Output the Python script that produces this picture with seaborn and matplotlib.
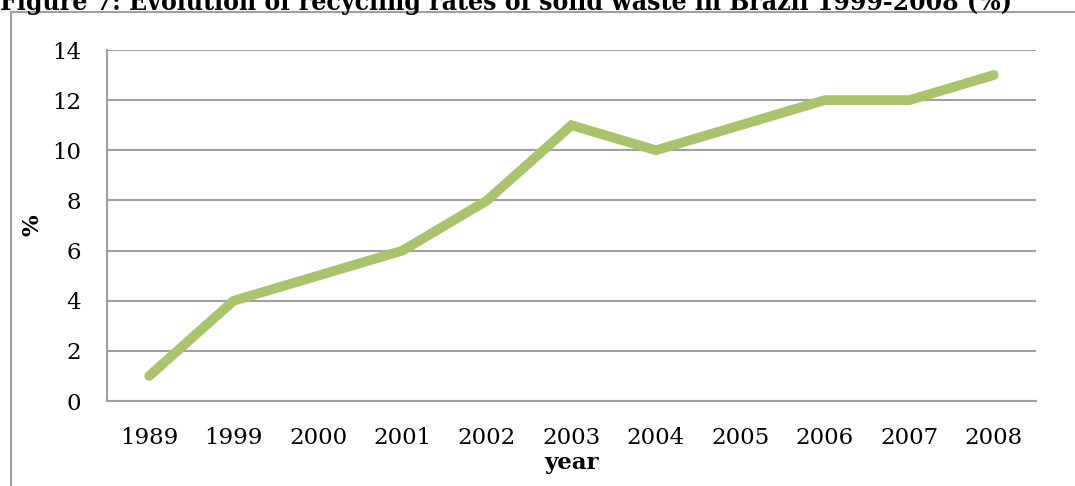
import matplotlib
matplotlib.use("Agg")
import matplotlib.pyplot as plt
import seaborn as sns
import pandas as pd
from matplotlib.patches import Rectangle

# Recycling rates of solid waste in Brazil
years = ["1989", "1999", "2000", "2001", "2002", "2003", "2004", "2005", "2006", "2007", "2008"]
rates = [1, 4, 5, 6, 8, 11, 10, 11, 12, 12, 13]
y_ticks = [0, 2, 4, 6, 8, 10, 12, 14]

df = pd.DataFrame({"year": years, "rate": rates})

sns.set_theme(style="white")
plt.rcParams["font.family"] = ["DejaVu Serif"]

fig = plt.figure(figsize=(10.75, 4.86), dpi=100)
ax = fig.add_axes([107 / 1075, 1 - 401 / 486, (1036 - 107) / 1075, (401 - 50) / 486])

grid_col = "#a0a0a0"
line_col = "#a9c46c"

sns.lineplot(data=df, x="year", y="rate", ax=ax, color=line_col, linewidth=7,
             solid_capstyle="round", solid_joinstyle="miter", sort=False, zorder=3)

ax.set_xlim(-0.5, len(years) - 0.5)
ax.set_ylim(0, 14)
ax.set_yticks(y_ticks)
ax.yaxis.grid(True, color=grid_col, linewidth=1.5)
ax.xaxis.grid(False)
ax.set_axisbelow(True)

for side in ["top", "right"]:
    ax.spines[side].set_visible(False)
for side in ["left", "bottom"]:
    ax.spines[side].set_color(grid_col)
    ax.spines[side].set_linewidth(1.5)

ax.tick_params(axis="both", length=0, labelsize=16.5, colors="black")
ax.tick_params(axis="y", pad=18.5)
ax.tick_params(axis="x", pad=18.5)

ax.set_xlabel("year", fontsize=16.5, fontweight="bold", color="black")
ax.set_ylabel("%", fontsize=16.5, fontweight="bold", color="black")
ax.xaxis.set_label_coords(0.5, (401 - 452) / 351)
ax.yaxis.set_label_coords((43 - 107) / 929, 0.5)

# Chart frame
fig.patches.append(Rectangle((11 / 1075, -0.1), 1.2, 1 - 12 / 486 + 0.1,
                             transform=fig.transFigure, fill=False,
                             edgecolor=grid_col, linewidth=1.5, zorder=0))

# Caption, partly above the top edge
fig.text(0.0, 1 - 10 / 486,
         "Figure 7: Evolution of recycling rates of solid waste in Brazil 1999-2008 (%)",
         fontsize=19, fontweight="bold", fontstretch="condensed",
         ha="left", va="baseline", color="black")

fig.savefig("out.png", dpi=100)
